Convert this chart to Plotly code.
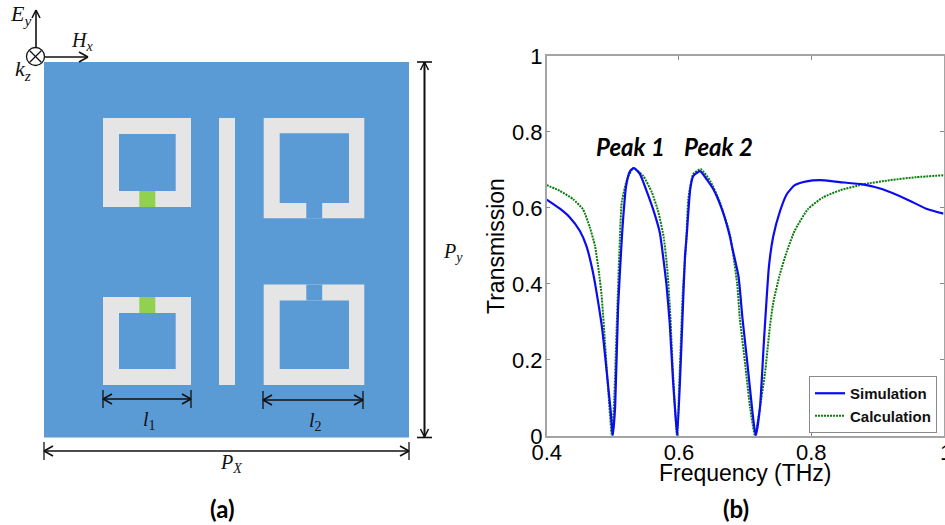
import plotly.graph_objects as go

# ---------- data ----------
sim_freq = [0.40,0.42,0.435,0.45,0.46,0.47,0.478,0.484,0.491,0.4965,0.50,0.5035,0.508,0.5135,0.5155,0.52,0.526,0.532,0.541,0.551,0.561,0.571,0.574,0.581,0.586,0.591,0.5945,0.5975,0.604,0.609,0.612,0.617,0.6215,0.632,0.642,0.652,0.665,0.677,0.68,0.69,0.696,0.7035,0.711,0.716,0.7225,0.7285,0.736,0.7425,0.7525,0.763,0.775,0.793,0.813,0.843,0.878,0.908,0.944,0.974,1.0]
sim_trans = [0.622,0.598,0.575,0.54,0.50,0.43,0.35,0.28,0.164,0.07,0.0,0.077,0.34,0.517,0.57,0.657,0.697,0.705,0.689,0.645,0.596,0.535,0.50,0.40,0.297,0.146,0.06,0.0,0.25,0.47,0.535,0.649,0.684,0.697,0.675,0.649,0.596,0.525,0.50,0.42,0.31,0.19,0.065,0.0,0.075,0.25,0.445,0.525,0.59,0.636,0.66,0.67,0.673,0.668,0.662,0.649,0.623,0.598,0.585]
calc_freq = [0.40,0.42,0.44,0.455,0.465,0.473,0.479,0.483,0.488,0.493,0.4985,0.502,0.506,0.51,0.5135,0.5215,0.531,0.546,0.559,0.569,0.577,0.582,0.5865,0.591,0.597,0.601,0.606,0.611,0.614,0.6215,0.633,0.6475,0.662,0.677,0.688,0.692,0.70,0.7075,0.715,0.7225,0.73,0.7375,0.7425,0.7525,0.763,0.775,0.795,0.818,0.843,0.878,0.919,0.959,1.0]
calc_trans = [0.66,0.645,0.623,0.596,0.55,0.50,0.43,0.37,0.25,0.12,0.0,0.093,0.296,0.49,0.615,0.675,0.705,0.684,0.641,0.588,0.522,0.445,0.331,0.164,0.0,0.164,0.384,0.51,0.622,0.689,0.702,0.67,0.615,0.53,0.40,0.31,0.19,0.075,0.0,0.075,0.164,0.287,0.35,0.425,0.485,0.54,0.597,0.628,0.646,0.662,0.673,0.681,0.686]
series_names = ["Simulation", "Calculation"]
x_ticks = [0.4, 0.6, 0.8, 1.0]
x_tick_labels = ["0.4", "0.6", "0.8", ""]
y_ticks = [0, 0.2, 0.4, 0.6, 0.8, 1]
y_tick_labels = ["0", "0.2", "0.4", "0.6", "0.8", "1"]

W, H = 945, 525
BLUE, GREY, GREEN = "#5B9BD5", "#E5E5E5", "#92D050"
shapes = []
px = lambda x: x / W
py = lambda y: 1 - y / H

def rect(x0, y0, x1, y1, c):
    shapes.append(dict(type="rect", xref="paper", yref="paper", x0=px(x0), y0=py(y0), x1=px(x1), y1=py(y1),
                       fillcolor=c, line=dict(width=0), layer="above"))

def seg(x0, y0, x1, y1, w=1.6):
    shapes.append(dict(type="line", xref="paper", yref="paper", x0=px(x0), y0=py(y0), x1=px(x1), y1=py(y1),
                       line=dict(color="#111111", width=w), layer="above"))

def arrow_h(x0, x1, y, end_ticks=True, h=9):
    seg(x0, y, x1, y)
    seg(x1 - 9, y - 5, x1, y); seg(x1 - 9, y + 5, x1, y)
    if end_ticks:
        seg(x0 + 9, y - 5, x0, y); seg(x0 + 9, y + 5, x0, y)
        seg(x0, y - h, x0, y + h, 1.3); seg(x1, y - h, x1, y + h, 1.3)

def arrow_v(x, y0, y1):
    seg(x, y0, x, y1)
    d = 8 if y1 > y0 else -8
    seg(x - 4, y1 - d, x, y1); seg(x + 4, y1 - d, x, y1)

# schematic
rect(44, 62, 409, 437.5, BLUE)
for (oy0, oy1, iy0, iy1, gy0, gy1) in [(118, 207, 134, 191, 191, 207), (297, 385, 313, 369, 297, 313)]:
    rect(103, oy0, 191, oy1, GREY)
    rect(119, iy0, 175.7, iy1, BLUE)
    rect(139.3, gy0, 155.3, gy1, GREEN)
rect(219, 118, 235, 385, GREY)
for (oy0, oy1, iy0, iy1, gy0, gy1) in [(118, 218.3, 133.3, 203, 203, 218.3), (284.5, 385, 300.5, 369, 284.5, 300.5)]:
    rect(263.7, oy0, 364.3, oy1, GREY)
    rect(279.7, iy0, 349, iy1, BLUE)
    rect(306.3, gy0, 322.2, gy1, BLUE)

arrow_v(36, 47, 10)
arrow_h(45, 88, 57, end_ticks=False)
shapes.append(dict(type="circle", xref="paper", yref="paper", x0=px(26.5), y0=py(47.5), x1=px(44.5), y1=py(65.5),
                   fillcolor="white", line=dict(color="#111111", width=1.3), layer="above"))
seg(29.5, 50.5, 41.5, 62.5, 1.2); seg(29.5, 62.5, 41.5, 50.5, 1.2)
arrow_h(103, 191, 399)
arrow_h(263, 363, 400)
arrow_h(44, 409, 451)
arrow_v(424.5, 62, 437)
arrow_v(424.5, 437, 62)
seg(417, 62, 432, 62); seg(417, 437.5, 432, 437.5)

def note(x, y, text, size, family="Liberation Serif", color="#111111", **kw):
    d = dict(x=px(x), y=py(y), xref="paper", yref="paper", text=text, showarrow=False,
             font=dict(family=family, size=size, color=color),
             xanchor="center", yanchor="middle")
    d.update(kw)
    return d

annotations = [
    note(20, 15, "<i>E<sub>y</sub></i>", 22),
    note(82, 42, "<i>H<sub>x</sub></i>", 20),
    note(23, 70, "<i>k<sub>z</sub></i>", 22),
    note(149, 420, "<i>l</i><sub>1</sub>", 20),
    note(315, 421, "<i>l</i><sub>2</sub>", 20),
    note(231, 463, "<i>P<sub>X</sub></i>", 20),
    note(453, 252, "<i>P<sub>y</sub></i>", 20),
    note(222, 508, "<b>(a)</b>", 24, "Lato", "#000000"),
    note(736, 508, "<b>(b)</b>", 24, "Lato", "#000000"),
    note(630.5, 146, "<b><i>Peak 1</i></b>", 24, "Lato", "#000000"),
    note(718.5, 146, "<b><i>Peak 2</i></b>", 24, "Lato", "#000000"),
    note(938, 452, "1", 22, "Liberation Sans", "#000000", xanchor="left"),
    note(745, 472.5, "Frequency (THz)", 23, "Liberation Sans", "#000000"),
    note(496, 246, "Transmission", 23, "Liberation Sans", "#000000", textangle=-90),
]

fig = go.Figure()
fig.add_trace(go.Scatter(x=calc_freq, y=calc_trans, name=series_names[1], mode="lines",
                         line=dict(color="#0A7D0A", width=2, dash="2px,1px", shape="spline", smoothing=0.5)))
fig.add_trace(go.Scatter(x=sim_freq, y=sim_trans, name=series_names[0], mode="lines",
                         line=dict(color="#0B0BF0", width=2.2, shape="spline", smoothing=0.5)))

ax = dict(showgrid=False, zeroline=False, mirror="ticks", showline=True, linecolor="#A4A4A4", linewidth=1.5,
          ticks="inside", ticklen=4, tickcolor="#8A8A8A", tickwidth=1, automargin=False,
          tickfont=dict(family="Liberation Sans", size=22, color="#000000"))

fig.update_layout(
    width=W, height=H, margin=dict(l=0, r=0, t=0, b=0, autoexpand=False), autosize=False,
    paper_bgcolor="white", plot_bgcolor="white",
    xaxis=dict(domain=[546.7 / W, 943.5 / W], range=[0.4, 1.0], tickvals=x_ticks, ticktext=x_tick_labels,
               ticklabelstandoff=-4, **ax),
    yaxis=dict(domain=[(H - 435.8) / H, (H - 56) / H], range=[0, 1], tickvals=y_ticks, ticktext=y_tick_labels,
               ticklabelstandoff=-2, **ax),
    legend=dict(x=809 / W, y=(H - 376) / H, xanchor="left", yanchor="top", traceorder="reversed",
                bgcolor="white", bordercolor="#8A8A8A", borderwidth=1, itemwidth=30, tracegroupgap=0,
                font=dict(family="Liberation Sans", size=15, color="#111111", weight="bold")),
    shapes=shapes, annotations=annotations,
)
fig.write_html("out.html", config=dict(displayModeBar=False),
               post_script="document.body.style.margin='0';document.documentElement.style.overflow='hidden';")
